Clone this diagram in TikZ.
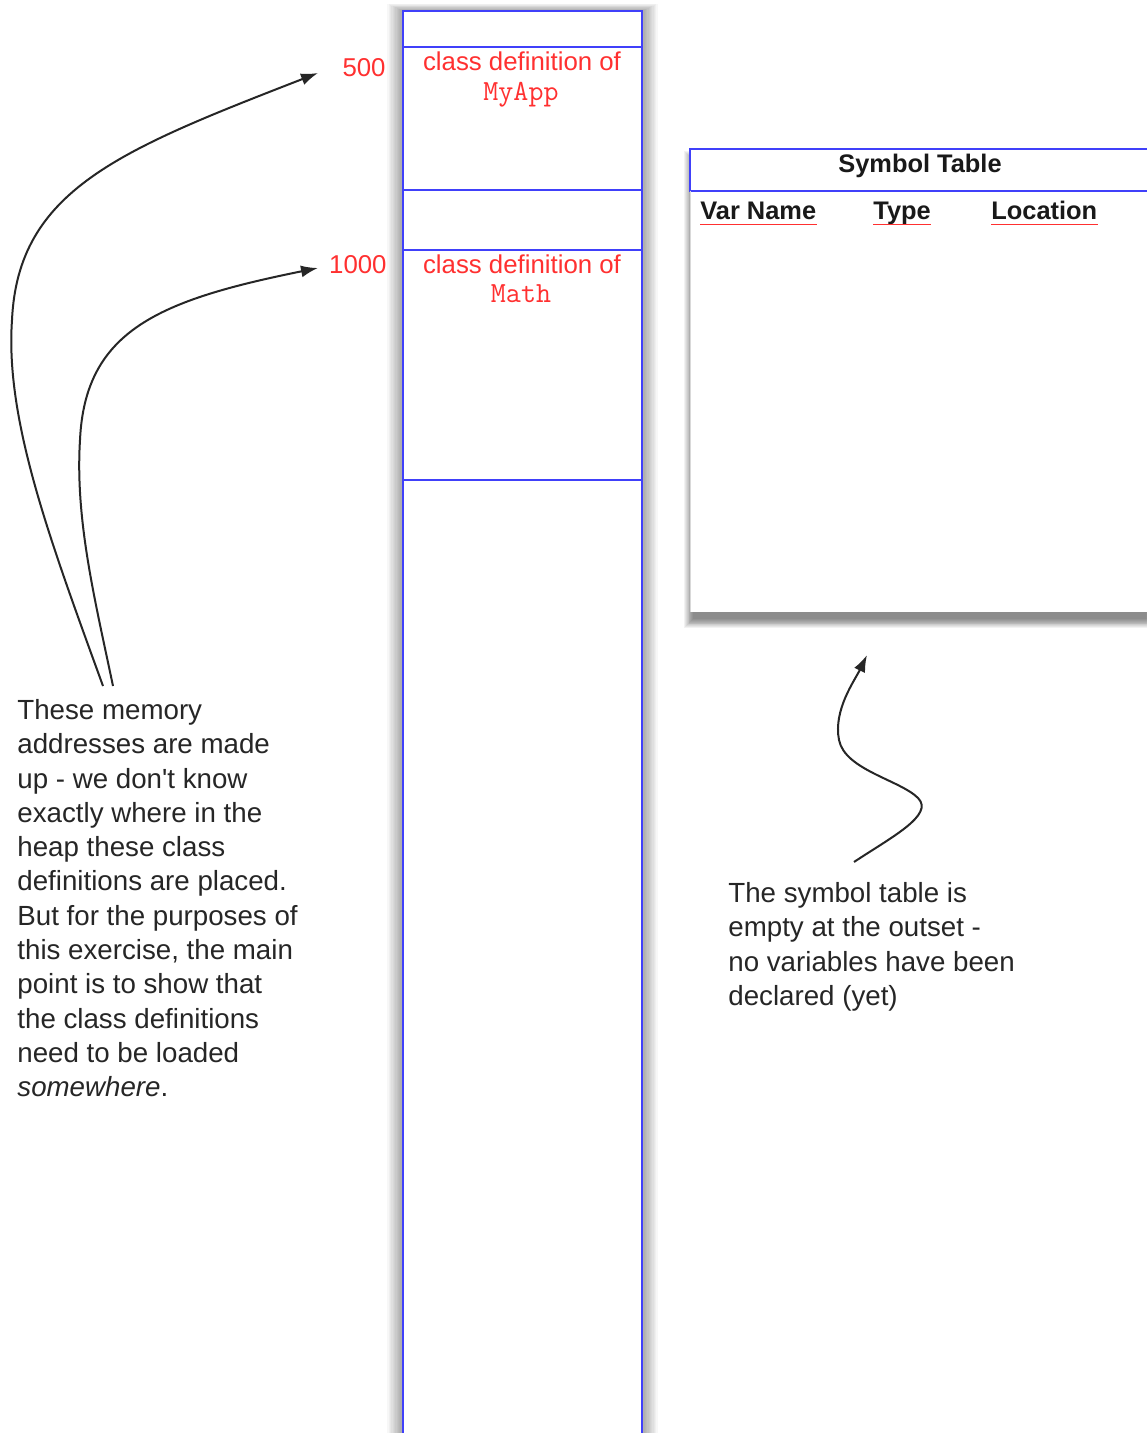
\documentclass[tikz,border=0pt]{standalone}
\usepackage{fontspec}
\setmainfont{Liberation Sans}
\newfontfamily\plainsans{Liberation Sans}
\usetikzlibrary{arrows.meta}
\definecolor{memblue}{RGB}{64,64,250}
\definecolor{lblred}{RGB}{255,48,48}
\begin{document}
\begin{tikzpicture}[x=0.5pt,y=-0.5pt,
  blueline/.style={draw=memblue, line width=1pt},
  redlbl/.style={text=lblred, font=\fontsize{12.9}{15}\selectfont, inner sep=0},
  redcode/.style={text=lblred, font=\ttfamily\fontsize{14.6}{15}\selectfont, inner sep=0},
  note/.style={font=\plainsans\fontsize{13.85}{17.15}\selectfont, align=left, inner sep=0, anchor=north west, text=black!85},
  hdr/.style={font=\bfseries\fontsize{12.7}{15}\selectfont, inner sep=0, text=black!90},
  curvearrow/.style={line width=1pt, draw=black!85, -{Latex[length=8.5pt,width=6pt]}}]
\useasboundingbox (0,0) rectangle (1146,1433);
\fill[white] (0,0) rectangle (1146,1433);
% shadows
\foreach \i in {1,...,12}
  \fill[black, opacity=0.032] (403-1.3*\i, 11-0.6*\i) rectangle (642+1.3*\i, 1440);
\foreach \i in {0,...,10}
  \fill[black, opacity=0.05] (693-0.9*\i, 160-0.9*\i) rectangle (1160, 619+0.9*\i);
% memory column
\fill[white] (403,11) rectangle (642,1440);
\draw[blueline] (403,1440) -- (403,11) -- (642,11) -- (642,1440);
\foreach \yy in {47,190,250,480}
  \draw[blueline] (403,\yy) -- (642,\yy);
% symbol table
\fill[white] (690,149) rectangle (1160,612);
\draw[blueline] (1160,149) -- (690,149) -- (690,191) -- (1160,191);
\draw[black!15, line width=0.5pt] (690,191) -- (690,612);
\node[hdr, anchor=base] (st) at (920,173) {Symbol Table};
\node[hdr, anchor=base west] (vn) at (700,220) {Var Name};
\node[hdr, anchor=base west] (ty) at (873,220) {Type};
\node[hdr, anchor=base west] (lo) at (991,220) {Location};
\foreach \n in {vn,ty,lo}
  \draw[lblred, line width=0.9pt] ([yshift=-2.3pt]\n.base west) -- ([yshift=-2.3pt]\n.base east);
% red labels
\node[redlbl, anchor=base east] (a500) at (386,77) {500};
\node[redlbl, anchor=base east] (a1000) at (387,274) {1000};
\node[redlbl, anchor=base] (cd1) at (522,71) {class definition of};
\node[redcode, anchor=base] (my) at (521,101) {MyApp};
\node[redlbl, anchor=base] (cd2) at (522,274) {class definition of};
\node[redcode, anchor=base] (ma) at (521,303) {Math};
% notes
\node[note] (leftnote) at (17,699) {These memory\\addresses are made\\up - we don't know\\exactly where in the\\heap these class\\definitions are placed.\\But for the purposes of\\this exercise, the main\\point is to show that\\the class definitions\\need to be loaded\\\textit{somewhere}.};
\node[note] (rightnote) at (728,882) {The symbol table is\\empty at the outset -\\no variables have been\\declared (yet)};
% connectors
\coordinate (s1) at (103,686);
\coordinate (s2) at (113,686);
\coordinate (e1) at (318,73);
\coordinate (e2) at (318,268);
\coordinate (s3) at (854,862);
\coordinate (e3) at (867,655);
\draw[curvearrow] (s1) .. controls (50,540) and (5,420) .. (12,320) .. controls (18,190) and (120,150) .. (e1);
\draw[curvearrow] (s2) .. controls (95,600) and (75,520) .. (80,440) .. controls (85,330) and (160,300) .. (e2);
\draw[curvearrow] (s3) .. controls (890,838) and (935,815) .. (918,798) .. controls (900,780) and (845,770) .. (839,740) .. controls (833,710) and (855,680) .. (e3);
\end{tikzpicture}
\end{document}
